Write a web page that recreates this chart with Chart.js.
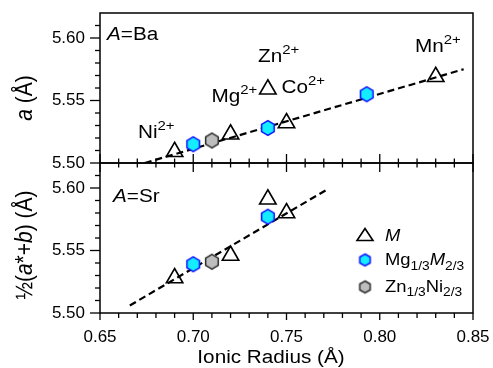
<!DOCTYPE html>
<html>
<head>
<meta charset="utf-8">
<script src="https://cdn.jsdelivr.net/npm/chart.js@4.4.0/dist/chart.umd.min.js"></script>
<style>
html, body { margin: 0; padding: 0; background: #fff; }
#wrap { position: relative; width: 493px; height: 368px; }
#wrap canvas { position: absolute; left: 0; top: 0; }
</style>
</head>
<body>
<div id="wrap">
  <canvas id="chartBa" width="493" height="368"></canvas>
  <canvas id="chartSr" width="493" height="368"></canvas>
</div>
<script>
// tick labels
var xTicks = [0.65, 0.70, 0.75, 0.80, 0.85];
var yTicks = [5.50, 5.55, 5.60];

// A = Ba
var baM_x = [0.69, 0.72, 0.74, 0.75, 0.83];
var baM_y = [5.509, 5.523, 5.559, 5.532, 5.569];
var baMg_x = [0.70, 0.74, 0.793];
var baMg_y = [5.515, 5.528, 5.555];
var baZn_x = [0.71];
var baZn_y = [5.518];
var baFit_x = [0.674, 0.845];
var baFit_y = [5.500, 5.575];

// A = Sr
var srM_x = [0.69, 0.72, 0.74, 0.75];
var srM_y = [5.528, 5.546, 5.591, 5.580];
var srMg_x = [0.70, 0.74];
var srMg_y = [5.539, 5.577];
var srZn_x = [0.71];
var srZn_y = [5.541];
var srFit_x = [0.666, 0.772];
var srFit_y = [5.506, 5.599];

var FONT = '"Liberation Sans", Arial, Helvetica, sans-serif';
var SX = 1.15; // the original text is a bit wide

Chart.defaults.color = '#000';
Chart.defaults.font.family = FONT;

function pts(xs, ys) {
    return xs.map(function(x, i) { return {x: x, y: ys[i]}; });
}

function hexImage(r, fill, stroke, lw) {
    var size = Math.ceil(2 * r + 2 * lw + 2);
    var c = document.createElement('canvas');
    c.width = size; c.height = size;
    var g = c.getContext('2d');
    g.beginPath();
    for (var k = 0; k < 6; k++) {
        var a = -Math.PI / 2 + k * Math.PI / 3;
        var px = size / 2 + r * Math.cos(a), py = size / 2 + r * Math.sin(a);
        if (k) g.lineTo(px, py); else g.moveTo(px, py);
    }
    g.closePath();
    g.fillStyle = fill; g.fill();
    g.lineWidth = lw; g.strokeStyle = stroke; g.stroke();
    return c;
}

var hexCyan = hexImage(7.3, '#14ecff', '#1010ff', 1.5);
var hexGray = hexImage(7.3, '#bdbdbd', '#2a2a2a', 1.5);
var hexCyanSmall = hexImage(6, '#14ecff', '#1010ff', 1.5);
var hexGraySmall = hexImage(6, '#bdbdbd', '#2a2a2a', 1.5);

// text with italic / super / sub parts
function fontFor(p, size) {
    var s = (p.sup || p.sub) ? Math.round(size * 0.72) : size;
    return (p.i ? 'italic ' : '') + s + 'px ' + FONT;
}
function drawRich(ctx, x, y, parts, size, rotated, center) {
    ctx.save();
    ctx.translate(x, y);
    if (rotated) { ctx.rotate(-Math.PI / 2); ctx.scale(1, SX); }
    else ctx.scale(SX, 1);
    var w = 0;
    parts.forEach(function(p) { ctx.font = fontFor(p, size); w += ctx.measureText(p.t).width; });
    var cx = center ? -w / 2 : 0;
    ctx.fillStyle = '#000';
    ctx.textBaseline = 'alphabetic';
    ctx.textAlign = 'left';
    parts.forEach(function(p) {
        ctx.font = fontFor(p, size);
        var dy = p.sup ? -size * 0.42 : (p.sub ? size * 0.3 : 0);
        ctx.fillText(p.t, cx, dy);
        cx += ctx.measureText(p.t).width;
    });
    ctx.restore();
}

function line(ctx, x1, y1, x2, y2) {
    ctx.beginPath(); ctx.moveTo(x1, y1); ctx.lineTo(x2, y2); ctx.stroke();
}

// frame plus major/minor ticks
function framePlugin(isTop) {
    return {
        id: 'frame',
        afterDatasetsDraw: function(chart) {
            var ctx = chart.ctx, a = chart.chartArea;
            var xs = chart.scales.x, ys = chart.scales.y;
            ctx.save();
            ctx.strokeStyle = '#000';
            ctx.lineWidth = 1.5;
            ctx.strokeRect(a.left, a.top, a.right - a.left, a.bottom - a.top);
            ctx.lineWidth = 1.3;
            for (var i = 0; i < 12; i++) {
                var py = ys.getPixelForValue(5.50 + i * 0.01);
                line(ctx, a.left - (i % 5 === 0 ? 10 : 5), py, a.left, py);
            }
            for (var j = 0; j <= 20; j++) {
                var px = xs.getPixelForValue(0.65 + j * 0.01);
                var major = j % 5 === 0;
                if (isTop) line(ctx, px, a.bottom - (major ? 9 : 4.5), px, a.bottom + (major ? 9 : 4.5));
                else line(ctx, px, a.bottom, px, a.bottom + (major ? 7 : 5));
            }
            ctx.restore();
        }
    };
}

var labelsBa = {
    id: 'labelsBa',
    afterDraw: function(chart) {
        var ctx = chart.ctx;
        drawRich(ctx, 107, 39.5, [{t: 'A', i: true}, {t: '=Ba'}], 18);
        drawRich(ctx, 138, 138, [{t: 'Ni'}, {t: '2+', sup: true}], 18);
        drawRich(ctx, 211.5, 101.5, [{t: 'Mg'}, {t: '2+', sup: true}], 18);
        drawRich(ctx, 258, 61.5, [{t: 'Zn'}, {t: '2+', sup: true}], 18);
        drawRich(ctx, 281.5, 93, [{t: 'Co'}, {t: '2+', sup: true}], 18);
        drawRich(ctx, 415, 52, [{t: 'Mn'}, {t: '2+', sup: true}], 18);
        drawRich(ctx, 31.5, 98, [{t: 'a', i: true}, {t: ' (Å)'}], 21, true, true);
    }
};

var labelsSr = {
    id: 'labelsSr',
    afterDraw: function(chart) {
        var ctx = chart.ctx;
        drawRich(ctx, 113, 201.5, [{t: 'A', i: true}, {t: '=Sr'}], 18);
        drawRich(ctx, 31.5, 245, [{t: '½('}, {t: 'a', i: true}, {t: '*+'}, {t: 'b', i: true}, {t: ') (Å)'}], 21, true, true);
        drawRich(ctx, 271, 363, [{t: 'Ionic Radius (Å)'}], 18, false, true);

        // legend
        ctx.save();
        ctx.strokeStyle = '#000';
        ctx.lineWidth = 1.6;
        ctx.beginPath();
        ctx.moveTo(365, 228.5); ctx.lineTo(373, 240.5); ctx.lineTo(357, 240.5); ctx.closePath();
        ctx.stroke();
        ctx.drawImage(hexCyanSmall, 365 - hexCyanSmall.width / 2, 260 - hexCyanSmall.height / 2);
        ctx.drawImage(hexGraySmall, 365 - hexGraySmall.width / 2, 287 - hexGraySmall.height / 2);
        ctx.restore();
        drawRich(ctx, 385, 240.5, [{t: 'M', i: true}], 16);
        drawRich(ctx, 385, 265, [{t: 'Mg'}, {t: '1/3', sub: true}, {t: 'M', i: true}, {t: '2/3', sub: true}], 16);
        drawRich(ctx, 385, 291.5, [{t: 'Zn'}, {t: '1/3', sub: true}, {t: 'Ni'}, {t: '2/3', sub: true}], 16);
    }
};

function datasets(mx, my, gx, gy, zx, zy, fx, fy) {
    return [
        {data: pts(mx, my), pointStyle: 'triangle', pointRadius: 9.5, borderWidth: 1.6,
         borderColor: '#000', backgroundColor: 'rgba(0,0,0,0)'},
        {data: pts(gx, gy), pointStyle: hexCyan},
        {data: pts(zx, zy), pointStyle: hexGray},
        {data: pts(fx, fy), showLine: true, pointRadius: 0, borderColor: '#000',
         borderWidth: 2.2, borderDash: [7, 4]}
    ];
}

// invisible tick marks give the label offset without widening the layout padding
var hiddenTicks = {display: true, drawOnChartArea: false, drawTicks: true, tickLength: 15,
                   tickColor: 'rgba(0,0,0,0)', color: 'rgba(0,0,0,0)'};

function yScale() {
    return {
        type: 'linear', min: 5.50, max: 5.62,
        afterBuildTicks: function(s) { s.ticks = yTicks.map(function(v) { return {value: v}; }); },
        afterFit: function(s) { s.width = 100; },
        grid: hiddenTicks,
        border: {display: false},
        ticks: {padding: 0, font: {size: 17}, callback: function(v) { return v.toFixed(2); }}
    };
}

var common = {
    responsive: false,
    animation: false,
    devicePixelRatio: 1,
    events: [],
    plugins: {legend: {display: false}, tooltip: {enabled: false}}
};

var chartBa = new Chart(document.getElementById('chartBa').getContext('2d'), {
    type: 'scatter',
    data: {datasets: datasets(baM_x, baM_y, baMg_x, baMg_y, baZn_x, baZn_y, baFit_x, baFit_y)},
    options: Object.assign({}, common, {
        layout: {padding: {left: 0, top: 13, right: 20, bottom: 205}},
        scales: {
            x: {type: 'linear', min: 0.65, max: 0.85, display: false},
            y: yScale()
        }
    }),
    plugins: [framePlugin(true), labelsBa]
});

var chartSr = new Chart(document.getElementById('chartSr').getContext('2d'), {
    type: 'scatter',
    data: {datasets: datasets(srM_x, srM_y, srMg_x, srMg_y, srZn_x, srZn_y, srFit_x, srFit_y)},
    options: Object.assign({}, common, {
        layout: {padding: {left: 0, top: 163, right: 20, bottom: 25}},
        scales: {
            x: {
                type: 'linear', min: 0.65, max: 0.85,
                afterBuildTicks: function(s) { s.ticks = xTicks.map(function(v) { return {value: v}; }); },
                afterFit: function(s) { s.height = 30; },
                grid: Object.assign({}, hiddenTicks, {tickLength: 14}),
                border: {display: false},
                ticks: {padding: 0, font: {size: 17}, maxRotation: 0, autoSkip: false,
                        callback: function(v) { return v.toFixed(2); }}
            },
            y: yScale()
        }
    }),
    plugins: [framePlugin(false), labelsSr]
});
</script>
</body>
</html>
